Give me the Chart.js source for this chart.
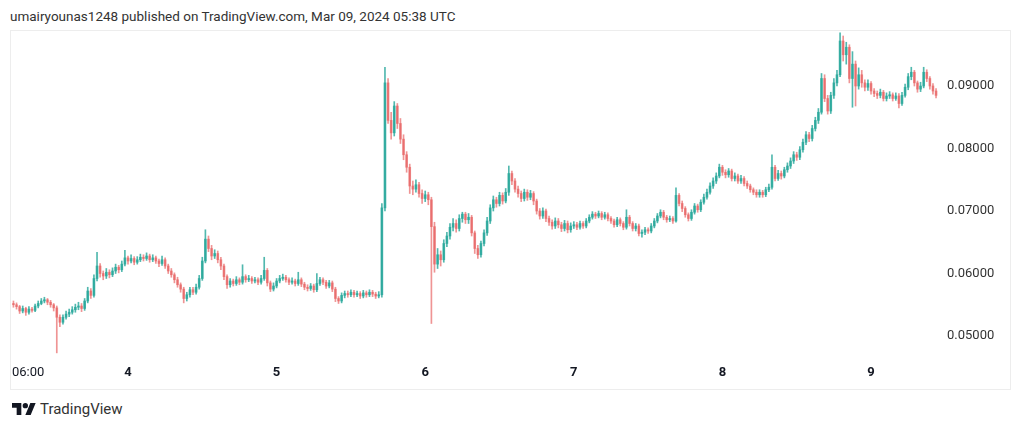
<!DOCTYPE html>
<html>
<head>
<meta charset="utf-8">
<title>TradingView snapshot</title>
<script src="https://cdn.jsdelivr.net/npm/chart.js@4/dist/chart.umd.min.js"></script>
<style>
  body { margin: 0; background: #fff; width: 1024px; height: 428px; overflow: hidden; font-family: Roboto, "Liberation Sans", sans-serif; }
  #title { position: absolute; left: 10px; top: 8px; font-size: 13.5px; line-height: 16px; color: #333; white-space: nowrap; }
  #frame { position: absolute; left: 10px; top: 30px; width: 1001px; height: 360px; box-sizing: border-box; border: 1px solid #ededed; }
  #chart { position: absolute; left: 10px; top: 31px; }
  #footer { position: absolute; left: 12px; top: 400px; height: 18px; display: flex; align-items: center; }
  #footer span { font-size: 15px; color: #333; margin-left: 4px; }
</style>
</head>
<body>
<div id="title">umairyounas1248 published on TradingView.com, Mar 09, 2024 05:38 UTC</div>
<div id="frame"></div>
<canvas id="chart" width="1000" height="358"></canvas>
<div id="footer">
  <svg width="24" height="12" viewBox="0 4 36 18" preserveAspectRatio="none"><path fill="#131722" d="M14 22H7V11H0V4h14v18zM28 22h-8l7.5-18h8L28 22z"/><circle fill="#131722" cx="20" cy="8" r="4"/></svg>
  <span>TradingView</span>
</div>
<script>
// 30 minute candles, first one at Mar 03 05:30 (chart time), bar number = array index
var opens = [
  0.0552,0.0550,0.0547,0.0540,0.0544,0.0538,0.0543,0.0541,0.0548,0.0552,
  0.0556,0.0558,0.0554,0.0550,0.0545,0.0530,0.0522,0.0530,0.0535,0.0538,
  0.0542,0.0546,0.0548,0.0544,0.0556,0.0572,0.0565,0.0592,0.0612,0.0600,
  0.0596,0.0602,0.0598,0.0604,0.0610,0.0606,0.0615,0.0625,0.0620,0.0624,
  0.0618,0.0622,0.0626,0.0624,0.0628,0.0622,0.0625,0.0620,0.0616,0.0622,
  0.0612,0.0604,0.0598,0.0590,0.0582,0.0575,0.0560,0.0566,0.0574,0.0570,
  0.0578,0.0592,0.0620,0.0655,0.0640,0.0628,0.0632,0.0622,0.0612,0.0595,
  0.0582,0.0588,0.0584,0.0590,0.0586,0.0595,0.0590,0.0592,0.0588,0.0590,
  0.0586,0.0592,0.0605,0.0585,0.0575,0.0580,0.0588,0.0592,0.0594,0.0590,
  0.0586,0.0588,0.0584,0.0590,0.0583,0.0578,0.0576,0.0580,0.0574,0.0584,
  0.0590,0.0586,0.0580,0.0585,0.0575,0.0560,0.0556,0.0565,0.0568,0.0566,
  0.0570,0.0566,0.0568,0.0564,0.0569,0.0566,0.0570,0.0567,0.0564,0.0566,
  0.0705,0.0905,0.0845,0.0825,0.0868,0.0840,0.0815,0.0790,0.0770,0.0740,
  0.0735,0.0742,0.0728,0.0720,0.0726,0.0718,0.0675,0.0615,0.0630,0.0622,
  0.0648,0.0660,0.0674,0.0680,0.0672,0.0688,0.0695,0.0686,0.0690,0.0665,
  0.0640,0.0630,0.0648,0.0665,0.0684,0.0705,0.0718,0.0712,0.0725,0.0716,
  0.0730,0.0760,0.0748,0.0735,0.0728,0.0720,0.0730,0.0722,0.0728,0.0716,
  0.0700,0.0692,0.0700,0.0688,0.0682,0.0676,0.0684,0.0678,0.0672,0.0680,
  0.0670,0.0676,0.0678,0.0674,0.0680,0.0676,0.0684,0.0690,0.0695,0.0692,
  0.0696,0.0690,0.0694,0.0688,0.0684,0.0678,0.0686,0.0680,0.0674,0.0690,
  0.0680,0.0672,0.0676,0.0664,0.0666,0.0670,0.0668,0.0676,0.0684,0.0692,
  0.0698,0.0690,0.0686,0.0688,0.0684,0.0725,0.0712,0.0704,0.0694,0.0688,
  0.0698,0.0708,0.0702,0.0714,0.0722,0.0730,0.0740,0.0748,0.0756,0.0770,
  0.0762,0.0758,0.0764,0.0752,0.0756,0.0748,0.0752,0.0744,0.0740,0.0734,
  0.0730,0.0726,0.0730,0.0726,0.0734,0.0738,0.0770,0.0752,0.0760,0.0756,
  0.0766,0.0772,0.0780,0.0790,0.0786,0.0798,0.0810,0.0822,0.0816,0.0832,
  0.0845,0.0858,0.0912,0.0880,0.0860,0.0885,0.0905,0.0918,0.0972,0.0950,
  0.0962,0.0912,0.0935,0.0900,0.0918,0.0905,0.0898,0.0904,0.0892,0.0888,
  0.0885,0.0890,0.0880,0.0884,0.0886,0.0880,0.0884,0.0872,0.0885,0.0898,
  0.0915,0.0922,0.0905,0.0895,0.0900,0.0922,0.0912,0.0900,0.0892
];
var highs = [
  0.0556,0.0553,0.0549,0.0548,0.0546,0.0547,0.0546,0.0551,0.0556,0.0560,
  0.0562,0.0560,0.0557,0.0552,0.0548,0.0534,0.0534,0.0540,0.0543,0.0547,
  0.0551,0.0554,0.0552,0.0560,0.0578,0.0576,0.0598,0.0634,0.0616,0.0604,
  0.0608,0.0606,0.0609,0.0615,0.0613,0.0620,0.0637,0.0628,0.0630,0.0627,
  0.0627,0.0631,0.0630,0.0633,0.0631,0.0630,0.0628,0.0623,0.0628,0.0625,
  0.0615,0.0608,0.0601,0.0594,0.0585,0.0578,0.0570,0.0578,0.0578,0.0583,
  0.0597,0.0626,0.0670,0.0660,0.0645,0.0638,0.0636,0.0626,0.0615,0.0598,
  0.0592,0.0591,0.0595,0.0593,0.0614,0.0598,0.0597,0.0595,0.0594,0.0593,
  0.0597,0.0626,0.0608,0.0588,0.0585,0.0592,0.0597,0.0599,0.0597,0.0593,
  0.0593,0.0591,0.0602,0.0593,0.0586,0.0582,0.0584,0.0583,0.0600,0.0594,
  0.0593,0.0589,0.0589,0.0588,0.0578,0.0563,0.0569,0.0572,0.0572,0.0574,
  0.0573,0.0572,0.0571,0.0573,0.0572,0.0574,0.0573,0.0570,0.0571,0.0712,
  0.0930,0.0912,0.0858,0.0875,0.0872,0.0848,0.0822,0.0795,0.0775,0.0748,
  0.0750,0.0746,0.0734,0.0732,0.0730,0.0722,0.0682,0.0640,0.0636,0.0654,
  0.0666,0.0680,0.0688,0.0686,0.0694,0.0698,0.0698,0.0696,0.0693,0.0668,
  0.0645,0.0652,0.0670,0.0690,0.0710,0.0724,0.0722,0.0730,0.0729,0.0736,
  0.0772,0.0764,0.0752,0.0740,0.0732,0.0735,0.0734,0.0733,0.0731,0.0719,
  0.0704,0.0705,0.0703,0.0692,0.0686,0.0689,0.0688,0.0682,0.0685,0.0684,
  0.0681,0.0683,0.0682,0.0684,0.0683,0.0688,0.0694,0.0699,0.0698,0.0700,
  0.0699,0.0698,0.0697,0.0691,0.0687,0.0690,0.0689,0.0683,0.0702,0.0693,
  0.0683,0.0680,0.0679,0.0670,0.0674,0.0673,0.0680,0.0688,0.0696,0.0702,
  0.0701,0.0693,0.0692,0.0691,0.0737,0.0728,0.0716,0.0707,0.0697,0.0702,
  0.0712,0.0711,0.0718,0.0727,0.0735,0.0745,0.0753,0.0761,0.0775,0.0773,
  0.0766,0.0768,0.0767,0.0761,0.0759,0.0757,0.0755,0.0748,0.0743,0.0737,
  0.0734,0.0734,0.0733,0.0738,0.0743,0.0790,0.0773,0.0765,0.0764,0.0770,
  0.0777,0.0785,0.0795,0.0794,0.0803,0.0815,0.0827,0.0826,0.0837,0.0850,
  0.0864,0.0920,0.0918,0.0885,0.0890,0.0912,0.0925,0.0985,0.0980,0.0970,
  0.0966,0.0955,0.0940,0.0929,0.0925,0.0910,0.0910,0.0907,0.0896,0.0892,
  0.0895,0.0893,0.0889,0.0891,0.0889,0.0889,0.0888,0.0890,0.0903,0.0920,
  0.0930,0.0925,0.0908,0.0906,0.0930,0.0926,0.0915,0.0904,0.0896
];
var lows = [
  0.0546,0.0543,0.0536,0.0537,0.0533,0.0535,0.0538,0.0539,0.0545,0.0550,
  0.0553,0.0550,0.0546,0.0540,0.0473,0.0515,0.0519,0.0527,0.0531,0.0535,
  0.0538,0.0542,0.0539,0.0541,0.0553,0.0560,0.0562,0.0588,0.0594,0.0590,
  0.0592,0.0593,0.0595,0.0600,0.0601,0.0603,0.0612,0.0615,0.0617,0.0614,
  0.0615,0.0619,0.0620,0.0621,0.0618,0.0619,0.0616,0.0611,0.0613,0.0608,
  0.0600,0.0594,0.0585,0.0578,0.0570,0.0553,0.0556,0.0562,0.0566,0.0567,
  0.0575,0.0589,0.0617,0.0635,0.0622,0.0624,0.0617,0.0606,0.0590,0.0576,
  0.0578,0.0580,0.0581,0.0582,0.0583,0.0586,0.0587,0.0584,0.0585,0.0582,
  0.0583,0.0589,0.0580,0.0571,0.0572,0.0577,0.0585,0.0589,0.0586,0.0582,
  0.0583,0.0580,0.0581,0.0579,0.0574,0.0572,0.0573,0.0570,0.0571,0.0581,
  0.0582,0.0576,0.0577,0.0571,0.0555,0.0552,0.0553,0.0561,0.0562,0.0563,
  0.0562,0.0563,0.0560,0.0561,0.0562,0.0563,0.0563,0.0560,0.0561,0.0562,
  0.0700,0.0840,0.0815,0.0820,0.0832,0.0808,0.0782,0.0762,0.0728,0.0726,
  0.0730,0.0722,0.0712,0.0715,0.0710,0.0520,0.0602,0.0608,0.0612,0.0618,
  0.0643,0.0655,0.0668,0.0666,0.0668,0.0682,0.0680,0.0680,0.0660,0.0632,
  0.0624,0.0626,0.0644,0.0661,0.0680,0.0700,0.0706,0.0708,0.0711,0.0713,
  0.0725,0.0742,0.0730,0.0722,0.0715,0.0716,0.0717,0.0718,0.0710,0.0695,
  0.0687,0.0688,0.0683,0.0677,0.0671,0.0672,0.0673,0.0667,0.0668,0.0665,
  0.0666,0.0672,0.0670,0.0671,0.0672,0.0673,0.0681,0.0687,0.0688,0.0689,
  0.0686,0.0687,0.0684,0.0680,0.0674,0.0675,0.0676,0.0670,0.0671,0.0676,
  0.0668,0.0668,0.0660,0.0658,0.0662,0.0664,0.0665,0.0673,0.0681,0.0689,
  0.0686,0.0682,0.0683,0.0680,0.0682,0.0708,0.0699,0.0690,0.0684,0.0685,
  0.0695,0.0698,0.0699,0.0711,0.0719,0.0727,0.0736,0.0744,0.0753,0.0757,
  0.0753,0.0754,0.0748,0.0748,0.0744,0.0744,0.0740,0.0736,0.0730,0.0726,
  0.0722,0.0722,0.0722,0.0723,0.0731,0.0735,0.0748,0.0749,0.0751,0.0753,
  0.0762,0.0768,0.0776,0.0781,0.0782,0.0794,0.0806,0.0811,0.0812,0.0828,
  0.0840,0.0855,0.0875,0.0855,0.0856,0.0880,0.0900,0.0915,0.0940,0.0935,
  0.0905,0.0866,0.0868,0.0895,0.0898,0.0892,0.0893,0.0887,0.0883,0.0880,
  0.0881,0.0876,0.0876,0.0880,0.0876,0.0877,0.0865,0.0869,0.0882,0.0894,
  0.0910,0.0900,0.0890,0.0891,0.0897,0.0907,0.0895,0.0887,0.0881
];
var closes = [
  0.0550,0.0547,0.0540,0.0544,0.0538,0.0543,0.0541,0.0548,0.0552,0.0556,
  0.0558,0.0554,0.0550,0.0545,0.0530,0.0522,0.0530,0.0535,0.0538,0.0542,
  0.0546,0.0548,0.0544,0.0556,0.0572,0.0565,0.0592,0.0612,0.0600,0.0596,
  0.0602,0.0598,0.0604,0.0610,0.0606,0.0615,0.0625,0.0620,0.0624,0.0618,
  0.0622,0.0626,0.0624,0.0628,0.0622,0.0625,0.0620,0.0616,0.0622,0.0612,
  0.0604,0.0598,0.0590,0.0582,0.0575,0.0560,0.0566,0.0574,0.0570,0.0578,
  0.0592,0.0620,0.0655,0.0640,0.0628,0.0632,0.0622,0.0612,0.0595,0.0582,
  0.0588,0.0584,0.0590,0.0586,0.0595,0.0590,0.0592,0.0588,0.0590,0.0586,
  0.0592,0.0605,0.0585,0.0575,0.0580,0.0588,0.0592,0.0594,0.0590,0.0586,
  0.0588,0.0584,0.0590,0.0583,0.0578,0.0576,0.0580,0.0574,0.0584,0.0590,
  0.0586,0.0580,0.0585,0.0575,0.0560,0.0556,0.0565,0.0568,0.0566,0.0570,
  0.0566,0.0568,0.0564,0.0569,0.0566,0.0570,0.0567,0.0564,0.0566,0.0705,
  0.0905,0.0845,0.0825,0.0868,0.0840,0.0815,0.0790,0.0770,0.0740,0.0735,
  0.0742,0.0728,0.0720,0.0726,0.0718,0.0675,0.0615,0.0630,0.0622,0.0648,
  0.0660,0.0674,0.0680,0.0672,0.0688,0.0695,0.0686,0.0690,0.0665,0.0640,
  0.0630,0.0648,0.0665,0.0684,0.0705,0.0718,0.0712,0.0725,0.0716,0.0730,
  0.0760,0.0748,0.0735,0.0728,0.0720,0.0730,0.0722,0.0728,0.0716,0.0700,
  0.0692,0.0700,0.0688,0.0682,0.0676,0.0684,0.0678,0.0672,0.0680,0.0670,
  0.0676,0.0678,0.0674,0.0680,0.0676,0.0684,0.0690,0.0695,0.0692,0.0696,
  0.0690,0.0694,0.0688,0.0684,0.0678,0.0686,0.0680,0.0674,0.0690,0.0680,
  0.0672,0.0676,0.0664,0.0666,0.0670,0.0668,0.0676,0.0684,0.0692,0.0698,
  0.0690,0.0686,0.0688,0.0684,0.0725,0.0712,0.0704,0.0694,0.0688,0.0698,
  0.0708,0.0702,0.0714,0.0722,0.0730,0.0740,0.0748,0.0756,0.0770,0.0762,
  0.0758,0.0764,0.0752,0.0756,0.0748,0.0752,0.0744,0.0740,0.0734,0.0730,
  0.0726,0.0730,0.0726,0.0734,0.0738,0.0770,0.0752,0.0760,0.0756,0.0766,
  0.0772,0.0780,0.0790,0.0786,0.0798,0.0810,0.0822,0.0816,0.0832,0.0845,
  0.0858,0.0912,0.0880,0.0860,0.0885,0.0905,0.0918,0.0972,0.0950,0.0962,
  0.0912,0.0935,0.0900,0.0918,0.0905,0.0898,0.0904,0.0892,0.0888,0.0885,
  0.0890,0.0880,0.0884,0.0886,0.0880,0.0884,0.0872,0.0885,0.0898,0.0915,
  0.0922,0.0905,0.0895,0.0900,0.0922,0.0912,0.0900,0.0892,0.0885
];

// axis labels: price scale and the bar numbers where the time labels fall
var priceTicks = [0.05, 0.06, 0.07, 0.08, 0.09];
var timeTicks = [1, 37, 85, 133, 181, 229, 277];
var timeLabels = ['06:00', '4', '5', '6', '7', '8', '9'];

var UP = 'rgba(38, 166, 154, 0.8)';
var DOWN = 'rgba(230, 90, 90, 0.65)';

function candleColor(c) {
    return closes[c.dataIndex] >= opens[c.dataIndex] ? UP : DOWN;
}

// wick = low..high, body = open..close
var wickData = [];
var bodyData = [];
for (var i = 0; i < closes.length; i++) {
    wickData.push({ x: i, y: [lows[i], highs[i]] });
    bodyData.push({ x: i, y: [opens[i], closes[i]] });
}

// draws the price labels on the right and the time labels under the candles
var axisLabels = {
    id: 'axisLabels',
    afterDraw: function(chart) {
        var ctx = chart.ctx;
        var area = chart.chartArea;
        var xs = chart.scales.x;
        var ys = chart.scales.y;
        ctx.save();
        ctx.fillStyle = '#333';
        ctx.textBaseline = 'middle';
        ctx.textAlign = 'left';
        ctx.font = '13px Roboto';
        priceTicks.forEach(function(v) {
            ctx.fillText(v.toFixed(5), area.right + 5, ys.getPixelForValue(v));
        });
        ctx.fillStyle = '#131722';
        timeTicks.forEach(function(t, k) {
            ctx.font = (k === 0 ? '' : 'bold ') + '13px Roboto';
            var w = ctx.measureText(timeLabels[k]).width;
            var px = xs.getPixelForValue(t) - w / 2;
            if (px < area.left + 2) px = area.left + 2;
            ctx.fillText(timeLabels[k], px, area.bottom + 11);
        });
        ctx.restore();
    }
};

var chart = new Chart(document.getElementById('chart'), {
    type: 'bar',
    data: {
        datasets: [{
            data: wickData,
            backgroundColor: candleColor,
            barThickness: 1,
            grouped: false,
            borderWidth: 0
        }, {
            data: bodyData,
            backgroundColor: candleColor,
            barThickness: 2,
            grouped: false,
            minBarLength: 1,
            borderWidth: 0
        }]
    },
    options: {
        responsive: false,
        animation: false,
        devicePixelRatio: 1,
        layout: { padding: { left: 0, top: 0, right: 68, bottom: 27 } },
        plugins: { legend: { display: false }, tooltip: { enabled: false } },
        scales: {
            x: { type: 'linear', min: -1.11, max: 299.92, offset: false, display: false },
            y: { min: 0.04584, max: 0.0988, display: false }
        }
    },
    plugins: [axisLabels]
});
</script>
</body>
</html>
